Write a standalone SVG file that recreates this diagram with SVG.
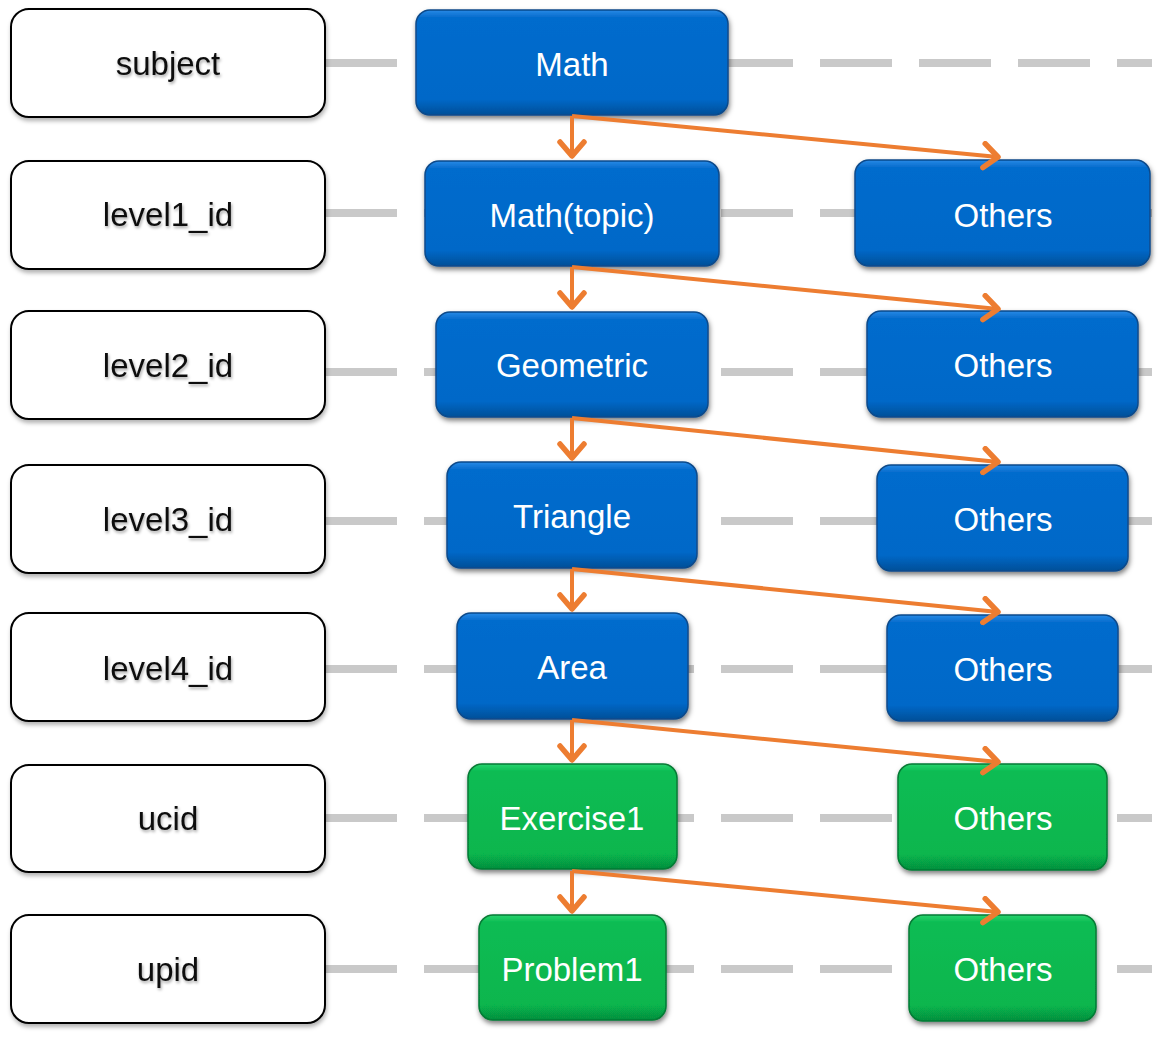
<svg xmlns="http://www.w3.org/2000/svg" width="1163" height="1038" viewBox="0 0 1163 1038">
<style>
.lbl{fill:#fff;stroke:#000;stroke-width:2;filter:url(#sh1)}
.lt{font-family:"Liberation Sans",Arial,sans-serif;font-size:33px;fill:#111;text-anchor:middle;filter:url(#tsh)}
.bt{font-family:"Liberation Sans",Arial,sans-serif;font-size:33px;fill:#fff;text-anchor:middle}
.blue{fill:url(#gb);stroke:#0a4a8a;stroke-width:1.5;filter:url(#sh2)}
.green{fill:url(#gg);stroke:#077a35;stroke-width:1.5;filter:url(#sh2)}
.dash{stroke:#c9c9c9;stroke-width:8;stroke-dasharray:72 27;fill:none}
.arr{stroke:#ed7d31;stroke-width:4;fill:none;marker-end:url(#ah)}
</style>
<defs>
<linearGradient id="gb" x1="0" y1="0" x2="0" y2="1">
<stop offset="0" stop-color="#2a8ae6"/>
<stop offset="0.07" stop-color="#066ccd"/>
<stop offset="0.85" stop-color="#0468c8"/>
<stop offset="1" stop-color="#034f98"/>
</linearGradient>
<linearGradient id="gg" x1="0" y1="0" x2="0" y2="1">
<stop offset="0" stop-color="#2ad46e"/>
<stop offset="0.07" stop-color="#0abc53"/>
<stop offset="0.85" stop-color="#07b64e"/>
<stop offset="1" stop-color="#068f3d"/>
</linearGradient>
<filter id="sh1" x="-10%" y="-10%" width="120%" height="130%">
<feDropShadow dx="1" dy="3" stdDeviation="2" flood-color="#000" flood-opacity="0.3"/>
</filter>
<filter id="sh2" x="-10%" y="-10%" width="120%" height="130%">
<feDropShadow dx="1" dy="3" stdDeviation="2.5" flood-color="#000" flood-opacity="0.5"/>
</filter>
<filter id="tsh" x="-10%" y="-20%" width="120%" height="150%">
<feDropShadow dx="1" dy="2" stdDeviation="1.5" flood-color="#000" flood-opacity="0.35"/>
</filter>
<marker id="ah" markerUnits="userSpaceOnUse" markerWidth="30" markerHeight="30" refX="17" refY="15" orient="auto" viewBox="0 0 30 30">
<path d="M3,3 L17,15 L3,27" fill="none" stroke="#ed7d31" stroke-width="5.5" stroke-linecap="round" stroke-linejoin="round"/>
</marker>
</defs>
<rect width="1163" height="1038" fill="#fff"/>
<g id="rows">
<line class="dash" x1="325" y1="63" x2="1152" y2="63"/>
<line class="dash" x1="325" y1="213" x2="1152" y2="213"/>
<line class="dash" x1="325" y1="372" x2="1152" y2="372"/>
<line class="dash" x1="325" y1="521" x2="1152" y2="521"/>
<line class="dash" x1="325" y1="669" x2="1152" y2="669"/>
<line class="dash" x1="325" y1="818" x2="1152" y2="818"/>
<line class="dash" x1="325" y1="969" x2="1152" y2="969"/>
</g>
<g id="label-subject"><rect class="lbl" x="11" y="9" width="314" height="108" rx="18"/><text class="lt" x="168" y="75">subject</text></g>
<g id="label-level1"><rect class="lbl" x="11" y="161" width="314" height="108" rx="18"/><text class="lt" x="168" y="226">level1_id</text></g>
<g id="label-level2"><rect class="lbl" x="11" y="311" width="314" height="108" rx="18"/><text class="lt" x="168" y="377">level2_id</text></g>
<g id="label-level3"><rect class="lbl" x="11" y="465" width="314" height="108" rx="18"/><text class="lt" x="168" y="531">level3_id</text></g>
<g id="label-level4"><rect class="lbl" x="11" y="613" width="314" height="108" rx="18"/><text class="lt" x="168" y="680">level4_id</text></g>
<g id="label-ucid"><rect class="lbl" x="11" y="765" width="314" height="107" rx="18"/><text class="lt" x="168" y="830">ucid</text></g>
<g id="label-upid"><rect class="lbl" x="11" y="915" width="314" height="108" rx="18"/><text class="lt" x="168" y="981">upid</text></g>

<g id="n-math"><rect class="blue" x="416" y="10" width="312" height="105" rx="14"/><text class="bt" x="572" y="76">Math</text></g>
<g id="n-topic"><rect class="blue" x="425" y="161" width="294" height="105" rx="14"/><text class="bt" x="572" y="227">Math(topic)</text></g>
<g id="n-geom"><rect class="blue" x="436" y="312" width="272" height="105" rx="14"/><text class="bt" x="572" y="377">Geometric</text></g>
<g id="n-tri"><rect class="blue" x="447" y="462" width="250" height="106" rx="14"/><text class="bt" x="572" y="528">Triangle</text></g>
<g id="n-area"><rect class="blue" x="457" y="613" width="231" height="106" rx="14"/><text class="bt" x="572" y="679">Area</text></g>
<g id="n-ex"><rect class="green" x="468" y="764" width="209" height="105" rx="14"/><text class="bt" x="572" y="830">Exercise1</text></g>
<g id="n-prob"><rect class="green" x="479" y="915" width="187" height="105" rx="14"/><text class="bt" x="572" y="981">Problem1</text></g>

<g id="o1"><rect class="blue" x="855" y="160" width="295" height="106" rx="14"/><text class="bt" x="1003" y="227">Others</text></g>
<g id="o2"><rect class="blue" x="867" y="311" width="271" height="106" rx="14"/><text class="bt" x="1003" y="377">Others</text></g>
<g id="o3"><rect class="blue" x="877" y="465" width="251" height="106" rx="14"/><text class="bt" x="1003" y="531">Others</text></g>
<g id="o4"><rect class="blue" x="887" y="615" width="231" height="106" rx="14"/><text class="bt" x="1003" y="681">Others</text></g>
<g id="o5"><rect class="green" x="898" y="764" width="209" height="106" rx="14"/><text class="bt" x="1003" y="830">Others</text></g>
<g id="o6"><rect class="green" x="909" y="915" width="187" height="106" rx="14"/><text class="bt" x="1003" y="981">Others</text></g>

<g id="connectors">
<path class="arr" d="M572,116 L572,156"/>
<path class="arr" d="M572,116 L998,157"/>
<path class="arr" d="M572,267 L572,307"/>
<path class="arr" d="M572,267 L998,309"/>
<path class="arr" d="M572,418 L572,458"/>
<path class="arr" d="M572,418 L998,462"/>
<path class="arr" d="M572,569 L572,609"/>
<path class="arr" d="M572,569 L998,612"/>
<path class="arr" d="M572,720 L572,760"/>
<path class="arr" d="M572,720 L998,762"/>
<path class="arr" d="M572,871 L572,911"/>
<path class="arr" d="M572,871 L998,912"/>
</g>
</svg>
